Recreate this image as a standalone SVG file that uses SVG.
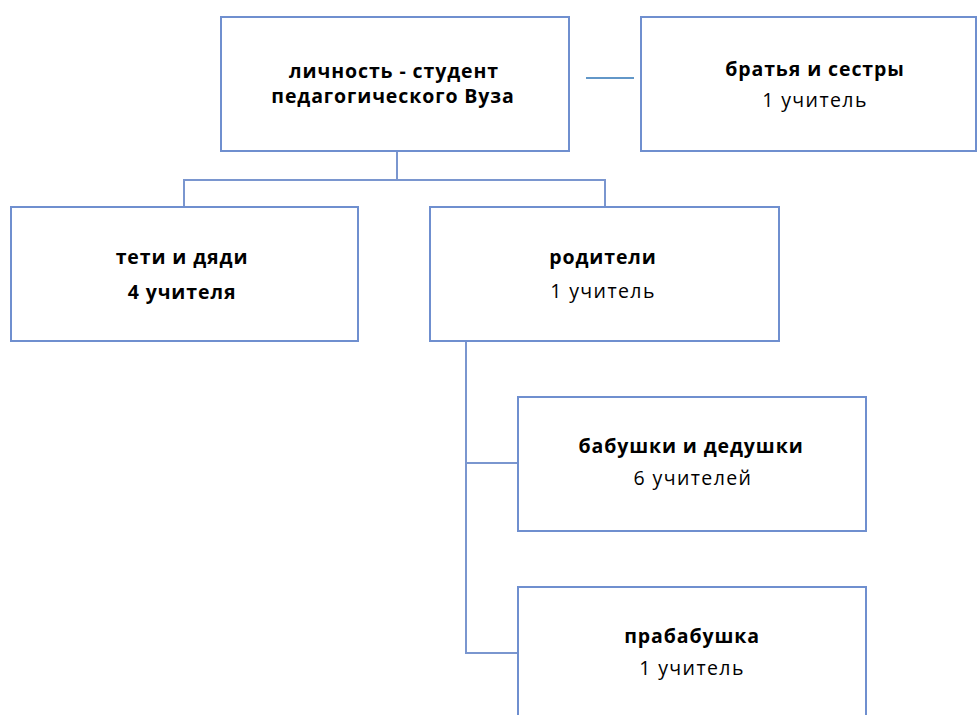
<svg xmlns="http://www.w3.org/2000/svg" width="978" height="715" viewBox="0 0 978 715">
<style>
.box{fill:#fff;stroke:#6f8fcf;stroke-width:2}
.ln{fill:none;stroke:#7a96cf;stroke-width:2}
text{font-family:"Open Sans","Noto Sans","DejaVu Sans",sans-serif;font-size:19.5px;text-anchor:middle;fill:#000;letter-spacing:1.4px}
.b{font-weight:bold;letter-spacing:0.9px}
</style>
<rect width="978" height="715" fill="#fff"/>
<g id="connectors">
<path class="ln" d="M397,151 V180 M184,206 V180 H605 V206"/>
<path class="ln" d="M466,341 V653 H518 M466,463 H518"/>
<path d="M586,78 H634" fill="none" stroke="#2e75b6" stroke-width="1.5"/>
</g>
<g id="student">
<rect class="box" x="221" y="17" width="348" height="134"/>
<text class="b" x="394" y="78">личность - студент</text>
<text class="b" x="393" y="103">педагогического Вуза</text>
</g>
<g id="siblings">
<rect class="box" x="641" y="17" width="335" height="134"/>
<text class="b" x="815" y="76">братья и сестры</text>
<text x="815" y="107">1 учитель</text>
</g>
<g id="aunts">
<rect class="box" x="11" y="207" width="347" height="134"/>
<text class="b" x="182" y="264">тети и дяди</text>
<text class="b" x="182" y="299">4 учителя</text>
</g>
<g id="parents">
<rect class="box" x="430" y="207" width="349" height="134"/>
<text class="b" x="603" y="264">родители</text>
<text x="603" y="298">1 учитель</text>
</g>
<g id="grandparents">
<rect class="box" x="518" y="397" width="348" height="134"/>
<text class="b" x="691" y="453">бабушки и дедушки</text>
<text x="693" y="485">6 учителей</text>
</g>
<g id="greatgrandmother">
<rect class="box" x="518" y="587" width="348" height="140"/>
<text class="b" x="692" y="643">прабабушка</text>
<text x="692" y="675">1 учитель</text>
</g>
</svg>
